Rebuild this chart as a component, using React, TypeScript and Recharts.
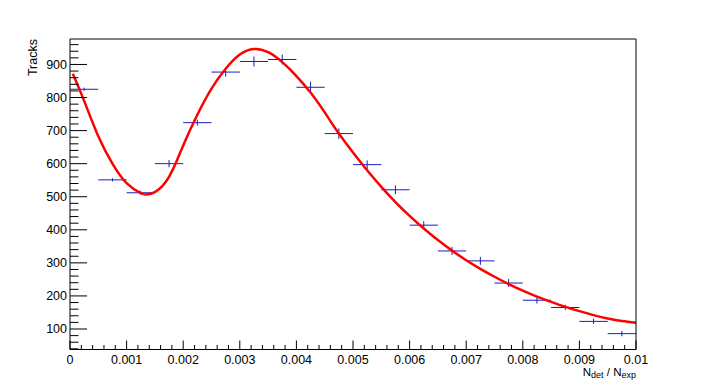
import {
  ComposedChart,
  Scatter,
  Line,
  ErrorBar,
  XAxis,
  YAxis,
} from 'recharts';

// histogram bins (centre, half width) and counts with their errors
const binCentres = [
  0.00025, 0.00075, 0.00125, 0.00175, 0.00225, 0.00275, 0.00325, 0.00375, 0.00425, 0.00475,
  0.00525, 0.00575, 0.00625, 0.00675, 0.00725, 0.00775, 0.00825, 0.00875, 0.00925, 0.00975,
];
const binCounts = [825, 551, 512, 600, 724, 877, 909, 915, 831, 691, 597, 521, 414, 336, 306, 239, 187, 165, 123, 86];
const countErrors = [5, 5, 6, 11, 9, 14, 15, 15, 17, 16, 13, 13, 12, 12, 12, 12, 10, 8, 8, 8];
const binHalfWidth = 0.00025;

// fit curve
const fitX = [
  0.00005, 0.00025, 0.0005, 0.00075, 0.001, 0.00125, 0.00135, 0.0015, 0.00175, 0.002,
  0.00225, 0.0025, 0.00275, 0.003, 0.00325, 0.0035, 0.00375, 0.004, 0.00425, 0.0045,
  0.00475, 0.005, 0.00525, 0.0055, 0.00575, 0.006, 0.00625, 0.0065, 0.00675, 0.007,
  0.00725, 0.0075, 0.00775, 0.008, 0.00825, 0.0085, 0.00875, 0.009, 0.00925, 0.0095,
  0.00975, 0.01,
];
const fitY = [
  872, 790, 683, 600, 541, 511, 507, 514, 560, 655,
  748, 827, 887, 930, 947, 937, 907, 865, 815, 755,
  691, 634, 580, 530, 484, 442, 404, 369, 337, 308,
  282, 258, 236, 216, 198, 182, 167, 154, 142, 132,
  124, 119,
];

const xTicks = [
  0, 0.0002, 0.0004, 0.0006, 0.0008, 0.001, 0.0012, 0.0014, 0.0016, 0.0018,
  0.002, 0.0022, 0.0024, 0.0026, 0.0028, 0.003, 0.0032, 0.0034, 0.0036, 0.0038,
  0.004, 0.0042, 0.0044, 0.0046, 0.0048, 0.005, 0.0052, 0.0054, 0.0056, 0.0058,
  0.006, 0.0062, 0.0064, 0.0066, 0.0068, 0.007, 0.0072, 0.0074, 0.0076, 0.0078,
  0.008, 0.0082, 0.0084, 0.0086, 0.0088, 0.009, 0.0092, 0.0094, 0.0096, 0.0098, 0.01,
];
const yTicks = [
  40, 60, 80, 100, 120, 140, 160, 180, 200, 220, 240, 260, 280, 300, 320, 340, 360, 380,
  400, 420, 440, 460, 480, 500, 520, 540, 560, 580, 600, 620, 640, 660, 680, 700, 720,
  740, 760, 780, 800, 820, 840, 860, 880, 900, 920, 940, 960,
];

const points = binCentres.map((x, i) => ({
  x,
  y: binCounts[i],
  ex: binHalfWidth,
  ey: countErrors[i],
}));
const fit = fitX.map((x, i) => ({ x, y: fitY[i] }));

const FONT = '"Liberation Sans", Arial, Helvetica, sans-serif';

function YTick(props: any) {
  const { x, y, payload } = props;
  const major = payload.value % 100 === 0;
  return (
    <g>
      <line x1={x} x2={x + (major ? 17 : 8.5)} y1={y} y2={y} stroke="#000" />
      {major && (
        <text x={x - 3} y={y} dy={4.5} textAnchor="end" fontSize={12.5} fontFamily={FONT} fill="#000">
          {payload.value}
        </text>
      )}
    </g>
  );
}

function XTick(props: any) {
  const { x, y, payload } = props;
  const v = payload.value * 1000;
  const major = Math.abs(v - Math.round(v)) < 1e-6;
  return (
    <g>
      <line x1={x} x2={x} y1={y} y2={y - (major ? 9 : 4.5)} stroke="#000" />
      {major && (
        <text x={x} y={y + 14} textAnchor="middle" fontSize={12.5} fontFamily={FONT} fill="#000">
          {String(Math.round(v) / 1000)}
        </text>
      )}
    </g>
  );
}

function XTitle(props: any) {
  const { viewBox } = props;
  return (
    <text x={viewBox.x + viewBox.width} y={viewBox.y + 26} textAnchor="end" fontSize={11.5} fontFamily={FONT} fill="#000">
      N<tspan fontSize={9} dy={2.5}>det</tspan>
      <tspan dy={-2.5}> / N</tspan>
      <tspan fontSize={9} dy={2.5}>exp</tspan>
    </text>
  );
}

function YTitle(props: any) {
  const { viewBox } = props;
  const x = viewBox.x + viewBox.width - 33;
  const y = viewBox.y;
  return (
    <text x={x} y={y} transform={`rotate(-90 ${x} ${y})`} textAnchor="end" fontSize={12.5} fontFamily={FONT} fill="#000">
      Tracks
    </text>
  );
}

export default function App() {
  return (
    <div style={{ position: 'absolute', left: 0, top: 0, width: 706, height: 389, background: '#fff' }}>
      <ComposedChart width={706} height={389} margin={{ top: 38, right: 69, bottom: 38.5, left: 69 }}>
        <XAxis
          xAxisId="b"
          type="number"
          dataKey="x"
          domain={[0, 0.01]}
          allowDataOverflow
          ticks={xTicks}
          interval={0}
          height={1}
          tickSize={0}
          tickMargin={0}
          tickLine={false}
          axisLine={{ stroke: '#000' }}
          tick={<XTick />}
          label={<XTitle />}
        />
        <XAxis
          xAxisId="t"
          orientation="top"
          type="number"
          domain={[0, 0.01]}
          height={1}
          tick={false}
          tickLine={false}
          axisLine={{ stroke: '#000' }}
        />
        <YAxis
          yAxisId="l"
          type="number"
          domain={[38, 977]}
          allowDataOverflow
          ticks={yTicks}
          interval={0}
          width={1}
          tickSize={0}
          tickMargin={0}
          tickLine={false}
          axisLine={{ stroke: '#000' }}
          tick={<YTick />}
          label={<YTitle />}
        />
        <YAxis
          yAxisId="r"
          orientation="right"
          type="number"
          domain={[38, 977]}
          width={1}
          tick={false}
          tickLine={false}
          axisLine={{ stroke: '#000' }}
        />
        <Scatter
          xAxisId="b"
          yAxisId="l"
          data={points}
          dataKey="y"
          shape={() => <g />}
          isAnimationActive={false}
        >
          <ErrorBar dataKey="ex" direction="x" width={0} stroke="#1c1cc0" strokeWidth={1} />
          <ErrorBar dataKey="ey" direction="y" width={0} stroke="#1c1cc0" strokeWidth={1} />
        </Scatter>
        <Line
          xAxisId="b"
          yAxisId="l"
          data={fit}
          dataKey="y"
          type="natural"
          stroke="#ff0000"
          strokeWidth={2.5}
          dot={false}
          activeDot={false}
          isAnimationActive={false}
        />
      </ComposedChart>
    </div>
  );
}
